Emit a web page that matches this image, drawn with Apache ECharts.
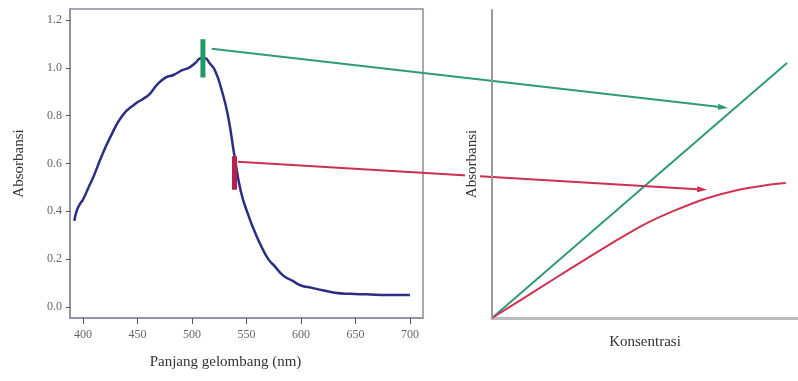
<!DOCTYPE html>
<html>
<head>
<meta charset="utf-8">
<script src="https://cdn.jsdelivr.net/npm/echarts@6/dist/echarts.min.js"></script>
<style>
  html, body { margin: 0; padding: 0; background: #fff; }
  #chart { width: 798px; height: 381px; }
</style>
</head>
<body>
<div id="chart"></div>
<script>
// spektrum serapan (kiri)
const wavelength = [392, 394, 397, 400, 405, 410, 417, 425, 436, 448, 455, 461, 468, 476, 483, 491, 497, 503, 508, 512, 516, 521, 527, 533, 539, 545, 552, 558, 564, 570, 576, 584, 592, 600, 610, 620, 631, 645, 660, 680, 700];
const absorbance = [0.36, 0.40, 0.43, 0.45, 0.50, 0.55, 0.63, 0.71, 0.80, 0.85, 0.87, 0.89, 0.93, 0.96, 0.97, 0.99, 1.00, 1.02, 1.04, 1.04, 1.02, 0.99, 0.91, 0.80, 0.63, 0.48, 0.38, 0.31, 0.25, 0.20, 0.17, 0.13, 0.11, 0.09, 0.08, 0.07, 0.06, 0.055, 0.053, 0.05, 0.05];
const xTicks = [400, 450, 500, 550, 600, 650, 700];
const yTicks = [0, 0.2, 0.4, 0.6, 0.8, 1.0, 1.2];

// penanda panjang gelombang
const greenMark = [[510, 0.96], [510, 1.12]];
const redMark = [[539, 0.49], [539, 0.63]];

// kurva kalibrasi (kanan)
const greenLine = [[0, 0], [9.64, 8.28]];
const redConc = [0, 1, 2, 3, 4, 5, 6, 7, 8, 9, 9.6];
const redAbs = [0, 0.62, 1.25, 1.87, 2.48, 3.05, 3.5, 3.88, 4.15, 4.32, 4.38];

// panah: titik awal (grid kiri) -> titik akhir (grid kanan)
const arrows = [
  { from: [518, 1.08], to: [7.71, 6.82], color: "#2f9b76" },
  { from: [542, 0.607], to: [7.03, 4.16], color: "#cc2f4f" }
];

const serif = "'Liberation Serif', 'DejaVu Serif', serif";
const chart = echarts.init(document.getElementById("chart"));

chart.setOption({
  animation: false,
  backgroundColor: "#fff",
  grid: [
    { left: 70, top: 9, width: 353, height: 309, show: true, borderColor: "#8c8ca0", borderWidth: 1.5 },
    { left: 492, top: 10, width: 306, height: 308 }
  ],
  xAxis: [
    {
      gridIndex: 0, type: "value", min: 388, max: 712,
      name: "Panjang gelombang (nm)", nameLocation: "middle", nameGap: 37,
      nameTextStyle: { fontFamily: serif, fontSize: 15, color: "#333", padding: [0, 42, 0, 0] },
      axisLine: { onZero: false, lineStyle: { color: "#8c8ca0", width: 1.5 } },
      axisTick: { show: true, length: 6, customValues: xTicks, lineStyle: { color: "#555", width: 1 } },
      axisLabel: { customValues: xTicks, fontFamily: serif, fontSize: 12, color: "#666", margin: 11 },
      splitLine: { show: false }
    },
    {
      gridIndex: 1, type: "value", min: 0, max: 10,
      name: "Konsentrasi", nameLocation: "middle", nameGap: 17,
      nameTextStyle: { fontFamily: serif, fontSize: 15, color: "#333" },
      axisLine: { onZero: false, lineStyle: { color: "#bdbdbd", width: 3 } },
      axisTick: { show: false }, axisLabel: { show: false }, splitLine: { show: false }
    }
  ],
  yAxis: [
    {
      gridIndex: 0, type: "value", min: -0.046, max: 1.246,
      name: "Absorbansi", nameLocation: "middle", nameGap: 43,
      nameTextStyle: { fontFamily: serif, fontSize: 15, color: "#333" },
      axisLine: { show: true, onZero: false, lineStyle: { color: "#8c8ca0", width: 1.5 } },
      axisTick: { show: true, length: 4, customValues: yTicks, lineStyle: { color: "#555", width: 1 } },
      axisLabel: {
        customValues: yTicks, fontFamily: serif, fontSize: 12, color: "#666", margin: 8,
        formatter: (v) => v.toFixed(1)
      },
      splitLine: { show: false }
    },
    {
      gridIndex: 1, type: "value", min: 0, max: 10, z: 10,
      name: "Absorbansi", nameLocation: "middle", nameGap: 12,
      nameTextStyle: { fontFamily: serif, fontSize: 15, color: "#333", backgroundColor: "#fff", padding: [0, 4, 0, 4] },
      axisLine: { show: true, onZero: false, lineStyle: { color: "#9a9a9a", width: 2 } },
      axisTick: { show: false }, axisLabel: { show: false }, splitLine: { show: false }
    }
  ],
  series: [
    {
      type: "line", xAxisIndex: 0, yAxisIndex: 0, showSymbol: false, smooth: 0.5,
      data: wavelength.map((w, i) => [w, absorbance[i]]),
      lineStyle: { color: "#2c2d85", width: 2.5 }
    },
    {
      type: "line", xAxisIndex: 0, yAxisIndex: 0, showSymbol: false, z: 3,
      data: greenMark, lineStyle: { color: "#1f9a62", width: 5 }
    },
    {
      type: "line", xAxisIndex: 0, yAxisIndex: 0, showSymbol: false, z: 3,
      data: redMark, lineStyle: { color: "#b8214c", width: 5 }
    },
    {
      type: "line", xAxisIndex: 1, yAxisIndex: 1, showSymbol: false,
      data: greenLine, lineStyle: { color: "#2f9b76", width: 2 }
    },
    {
      type: "line", xAxisIndex: 1, yAxisIndex: 1, showSymbol: false, smooth: 0.3,
      data: redConc.map((c, i) => [c, redAbs[i]]),
      lineStyle: { color: "#d03352", width: 2 }
    }
  ]
});

// panah digambar dari koordinat data kedua grid
const arrowGraphics = [];
arrows.forEach((a) => {
  const p0 = chart.convertToPixel({ gridIndex: 0 }, a.from);
  const p1 = chart.convertToPixel({ gridIndex: 1 }, a.to);
  const ang = Math.atan2(p1[1] - p0[1], p1[0] - p0[0]);
  const len = 10, half = 3;
  const bx = p1[0] - len * Math.cos(ang), by = p1[1] - len * Math.sin(ang);
  arrowGraphics.push({
    type: "line", z: 5,
    shape: { x1: p0[0], y1: p0[1], x2: bx, y2: by },
    style: { stroke: a.color, lineWidth: 2 }
  });
  arrowGraphics.push({
    type: "polygon", z: 5,
    shape: {
      points: [
        [p1[0], p1[1]],
        [bx + half * Math.sin(ang), by - half * Math.cos(ang)],
        [bx - half * Math.sin(ang), by + half * Math.cos(ang)]
      ]
    },
    style: { fill: a.color }
  });
});
chart.setOption({ graphic: arrowGraphics });
</script>
</body>
</html>
